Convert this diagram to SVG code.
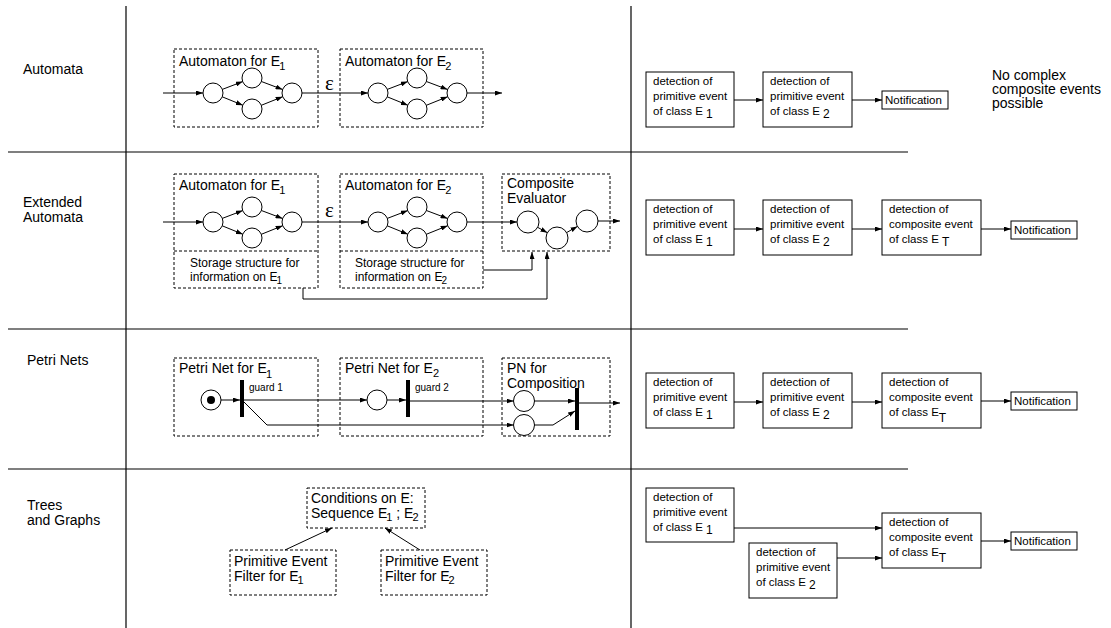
<svg xmlns="http://www.w3.org/2000/svg" width="1111" height="628" viewBox="0 0 1111 628">
  <style>
    text { font-family: "Liberation Sans", Arial, sans-serif; fill: #000; }
    .lbl { font-size: 14px; }
    .ttl { font-size: 14px; }
    .sm { font-size: 12px; }
    .box { font-size: 11.5px; }
    .grd { font-size: 10px; }
    .eps { font-family: "Liberation Serif", "Times New Roman", serif; font-size: 21px; }
    .sep { stroke: #000; stroke-width: 1.2; fill: none; }
    .dash { fill: none; stroke: #000; stroke-width: 1; stroke-dasharray: 3 2; }
    .solid { fill: #fff; stroke: #000; stroke-width: 1; }
    .st { fill: #fff; stroke: #000; stroke-width: 1; }
    .arr { fill: none; stroke: #000; stroke-width: 1; marker-end: url(#ah); }
    .bar { fill: #000; }
  </style>
  <defs>
    <marker id="ah" markerUnits="userSpaceOnUse" markerWidth="7" markerHeight="5" refX="7" refY="2.5" orient="auto">
      <path d="M0,0 L7,2.5 L0,5 z" fill="#000"/>
    </marker>
  </defs>
  <rect width="1111" height="628" fill="#fff"/>

  <!-- table grid -->
  <g id="grid">
    <line class="sep" x1="126" y1="6" x2="126" y2="628"/>
    <line class="sep" x1="631" y1="6" x2="631" y2="628"/>
    <line class="sep" x1="8" y1="152" x2="908" y2="152"/>
    <line class="sep" x1="8" y1="329" x2="908" y2="329"/>
    <line class="sep" x1="8" y1="469" x2="908" y2="469"/>
  </g>

  <!-- row headings -->
  <g id="row-labels">
    <text class="lbl" x="23" y="74">Automata</text>
    <text class="lbl" x="23" y="207">Extended</text>
    <text class="lbl" x="23" y="222">Automata</text>
    <text class="lbl" x="27" y="365">Petri Nets</text>
    <text class="lbl" x="27" y="510">Trees</text>
    <text class="lbl" x="27" y="525">and Graphs</text>
  </g>

  <!-- ===== Automata ===== -->
  <g id="aut1">
    <rect class="dash" x="174" y="49" width="144" height="78"/>
    <text class="ttl" x="179" y="66">Automaton for E<tspan font-size="11" dx="-1" dy="4">1</tspan></text>
    <circle class="st" cx="213" cy="93" r="10"/>
    <circle class="st" cx="252" cy="78" r="10"/>
    <circle class="st" cx="252" cy="109" r="10"/>
    <circle class="st" cx="292" cy="93" r="10"/>
  </g>
  <g id="aut2">
    <rect class="dash" x="340" y="49" width="143" height="78"/>
    <text class="ttl" x="345" y="66">Automaton for E<tspan font-size="11" dx="-1" dy="4">2</tspan></text>
    <circle class="st" cx="378" cy="93" r="10"/>
    <circle class="st" cx="417" cy="78" r="10"/>
    <circle class="st" cx="417" cy="109" r="10"/>
    <circle class="st" cx="457" cy="93" r="10"/>
  </g>

  <!-- ===== Extended Automata ===== -->
  <g id="ext1">
    <rect class="dash" x="174" y="174" width="144" height="114"/>
    <line class="dash" x1="174" y1="251" x2="318" y2="251"/>
    <text class="ttl" x="179" y="190">Automaton for E<tspan font-size="11" dx="-1" dy="4">1</tspan></text>
    <circle class="st" cx="213" cy="222" r="10"/>
    <circle class="st" cx="252" cy="207" r="10"/>
    <circle class="st" cx="252" cy="238" r="10"/>
    <circle class="st" cx="292" cy="222" r="10"/>
    <text class="sm" x="190" y="267">Storage structure for</text>
    <text class="sm" x="190" y="281">information on E<tspan font-size="10" dx="-1" dy="3">1</tspan></text>
  </g>
  <g id="ext2">
    <rect class="dash" x="340" y="174" width="143" height="114"/>
    <line class="dash" x1="340" y1="251" x2="483" y2="251"/>
    <text class="ttl" x="345" y="190">Automaton for E<tspan font-size="11" dx="-1" dy="4">2</tspan></text>
    <circle class="st" cx="378" cy="222" r="10"/>
    <circle class="st" cx="417" cy="207" r="10"/>
    <circle class="st" cx="417" cy="238" r="10"/>
    <circle class="st" cx="457" cy="222" r="10"/>
    <text class="sm" x="355" y="267">Storage structure for</text>
    <text class="sm" x="355" y="281">information on E<tspan font-size="10" dx="-1" dy="3">2</tspan></text>
  </g>
  <g id="ext-composite">
    <rect class="dash" x="502" y="174" width="108" height="77"/>
    <text class="ttl" x="507" y="188">Composite</text>
    <text class="ttl" x="507" y="203">Evaluator</text>
    <circle class="st" cx="528" cy="222" r="11"/>
    <circle class="st" cx="557" cy="238" r="11"/>
    <circle class="st" cx="587" cy="221" r="11"/>
  </g>

  <!-- ===== Petri Nets ===== -->
  <g id="pn1">
    <rect class="dash" x="174" y="358" width="144" height="78"/>
    <text class="ttl" x="179" y="373">Petri Net for E<tspan font-size="11" dx="-1" dy="5">1</tspan></text>
    <circle class="st" cx="211" cy="400" r="10"/>
    <circle cx="211" cy="400" r="4" fill="#000"/>
    <rect class="bar" x="240" y="380" width="4" height="37"/>
    <text class="grd" x="249" y="391">guard 1</text>
  </g>
  <g id="pn2">
    <rect class="dash" x="340" y="358" width="143" height="78"/>
    <text class="ttl" x="345" y="373">Petri Net for E<tspan font-size="11" dy="4">2</tspan></text>
    <circle class="st" cx="377" cy="400" r="10"/>
    <rect class="bar" x="406" y="380" width="4" height="37"/>
    <text class="grd" x="415" y="391">guard 2</text>
  </g>
  <g id="pn-composition">
    <rect class="dash" x="502" y="358" width="108" height="78"/>
    <text class="ttl" x="507" y="373">PN for</text>
    <text class="ttl" x="507" y="388">Composition</text>
    <circle class="st" cx="524" cy="401" r="10.5"/>
    <circle class="st" cx="524" cy="425" r="10.5"/>
    <rect class="bar" x="575" y="388" width="4" height="42"/>
  </g>

  <!-- ===== Trees and Graphs ===== -->
  <g id="tree-root">
    <rect class="dash" x="307" y="488" width="118" height="40"/>
    <text class="ttl" x="311" y="503">Conditions on E:</text>
    <text class="ttl" x="311" y="518">Sequence E<tspan font-size="11" dx="-1" dy="3">1</tspan><tspan dy="-3"> ; E</tspan><tspan font-size="11" dx="-1" dy="3">2</tspan></text>
  </g>
  <g id="tree-e1">
    <rect class="dash" x="230" y="550" width="106" height="45"/>
    <text class="ttl" x="234" y="566">Primitive Event</text>
    <text class="ttl" x="234" y="581">Filter for E<tspan font-size="11" dx="-1" dy="3">1</tspan></text>
  </g>
  <g id="tree-e2">
    <rect class="dash" x="381" y="550" width="106" height="45"/>
    <text class="ttl" x="385" y="566">Primitive Event</text>
    <text class="ttl" x="385" y="581">Filter for E<tspan font-size="11" dx="-1" dy="3">2</tspan></text>
  </g>

  <!-- ===== right column: detection chains ===== -->
  <g id="r1-e1">
    <rect class="solid" x="646" y="72" width="88" height="55"/>
    <text class="box" x="653" y="85">detection of</text>
    <text class="box" x="653" y="100">primitive event</text>
    <text class="box" x="653" y="115">of class E <tspan font-size="12" dy="3">1</tspan></text>
  </g>
  <g id="r1-e2">
    <rect class="solid" x="763" y="72" width="89" height="55"/>
    <text class="box" x="770" y="85">detection of</text>
    <text class="box" x="770" y="100">primitive event</text>
    <text class="box" x="770" y="115">of class E <tspan font-size="12" dy="3">2</tspan></text>
  </g>
  <g id="r1-notify">
    <rect class="solid" x="882" y="91" width="66" height="18"/>
    <text class="box" x="885" y="104">Notification</text>
  </g>
  <g id="r1-note">
    <text class="ttl" x="992" y="80">No complex</text>
    <text class="ttl" x="992" y="94">composite events</text>
    <text class="ttl" x="992" y="108">possible</text>
  </g>

  <g id="r2-e1">
    <rect class="solid" x="646" y="200" width="88" height="55"/>
    <text class="box" x="653" y="213">detection of</text>
    <text class="box" x="653" y="228">primitive event</text>
    <text class="box" x="653" y="243">of class E <tspan font-size="12" dy="3">1</tspan></text>
  </g>
  <g id="r2-e2">
    <rect class="solid" x="763" y="200" width="89" height="55"/>
    <text class="box" x="770" y="213">detection of</text>
    <text class="box" x="770" y="228">primitive event</text>
    <text class="box" x="770" y="243">of class E <tspan font-size="12" dy="3">2</tspan></text>
  </g>
  <g id="r2-et">
    <rect class="solid" x="882" y="200" width="99" height="55"/>
    <text class="box" x="889" y="213">detection of</text>
    <text class="box" x="889" y="228">composite event</text>
    <text class="box" x="889" y="243">of class E <tspan font-size="12" dy="3">T</tspan></text>
  </g>
  <g id="r2-notify">
    <rect class="solid" x="1011" y="221" width="66" height="18"/>
    <text class="box" x="1014" y="234">Notification</text>
  </g>

  <g id="r3-e1">
    <rect class="solid" x="646" y="373" width="88" height="55"/>
    <text class="box" x="653" y="386">detection of</text>
    <text class="box" x="653" y="401">primitive event</text>
    <text class="box" x="653" y="416">of class E <tspan font-size="12" dy="3">1</tspan></text>
  </g>
  <g id="r3-e2">
    <rect class="solid" x="763" y="373" width="89" height="55"/>
    <text class="box" x="770" y="386">detection of</text>
    <text class="box" x="770" y="401">primitive event</text>
    <text class="box" x="770" y="416">of class E <tspan font-size="12" dy="3">2</tspan></text>
  </g>
  <g id="r3-et">
    <rect class="solid" x="882" y="373" width="99" height="55"/>
    <text class="box" x="889" y="386">detection of</text>
    <text class="box" x="889" y="401">composite event</text>
    <text class="box" x="889" y="416">of class E<tspan font-size="12" dy="6">T</tspan></text>
  </g>
  <g id="r3-notify">
    <rect class="solid" x="1011" y="392" width="66" height="18"/>
    <text class="box" x="1014" y="405">Notification</text>
  </g>

  <g id="r4-e1">
    <rect class="solid" x="646" y="488" width="88" height="54"/>
    <text class="box" x="653" y="501">detection of</text>
    <text class="box" x="653" y="516">primitive event</text>
    <text class="box" x="653" y="531">of class E <tspan font-size="12" dy="3">1</tspan></text>
  </g>
  <g id="r4-e2">
    <rect class="solid" x="749" y="543" width="88" height="55"/>
    <text class="box" x="756" y="556">detection of</text>
    <text class="box" x="756" y="571">primitive event</text>
    <text class="box" x="756" y="586">of class E <tspan font-size="12" dy="3">2</tspan></text>
  </g>
  <g id="r4-et">
    <rect class="solid" x="882" y="513" width="99" height="55"/>
    <text class="box" x="889" y="526">detection of</text>
    <text class="box" x="889" y="541">composite event</text>
    <text class="box" x="889" y="556">of class E<tspan font-size="12" dy="6">T</tspan></text>
  </g>
  <g id="r4-notify">
    <rect class="solid" x="1011" y="532" width="66" height="18"/>
    <text class="box" x="1014" y="545">Notification</text>
  </g>

  <!-- connectors -->
  <g id="connectors">
    <!-- automata -->
    <line class="arr" x1="163" y1="93" x2="203" y2="93"/>
    <line class="arr" x1="222.3" y1="89.4" x2="242.7" y2="81.6"/>
    <line class="arr" x1="222.2" y1="96.8" x2="242.8" y2="105.2"/>
    <line class="arr" x1="261.4" y1="81.5" x2="282.6" y2="89.5"/>
    <line class="arr" x1="261.3" y1="105.3" x2="282.7" y2="96.7"/>
    <line class="arr" x1="302" y1="93" x2="368" y2="93"/>
    <line class="arr" x1="387.3" y1="89.4" x2="407.7" y2="81.6"/>
    <line class="arr" x1="387.2" y1="96.8" x2="407.8" y2="105.2"/>
    <line class="arr" x1="426.4" y1="81.5" x2="447.6" y2="89.5"/>
    <line class="arr" x1="426.3" y1="105.3" x2="447.7" y2="96.7"/>
    <line class="arr" x1="467" y1="93" x2="502" y2="93"/>
    <text class="eps" x="325" y="90">ε</text>

    <!-- extended automata -->
    <line class="arr" x1="163" y1="222" x2="203" y2="222"/>
    <line class="arr" x1="222.3" y1="218.4" x2="242.7" y2="210.6"/>
    <line class="arr" x1="222.2" y1="225.8" x2="242.8" y2="234.2"/>
    <line class="arr" x1="261.4" y1="210.5" x2="282.6" y2="218.5"/>
    <line class="arr" x1="261.3" y1="234.3" x2="282.7" y2="225.7"/>
    <line class="arr" x1="302" y1="222" x2="368" y2="222"/>
    <line class="arr" x1="387.3" y1="218.4" x2="407.7" y2="210.6"/>
    <line class="arr" x1="387.2" y1="225.8" x2="407.8" y2="234.2"/>
    <line class="arr" x1="426.4" y1="210.5" x2="447.6" y2="218.5"/>
    <line class="arr" x1="426.3" y1="234.3" x2="447.7" y2="225.7"/>
    <line class="arr" x1="467" y1="222" x2="517" y2="222"/>
    <line class="arr" x1="537.6" y1="227.3" x2="547.4" y2="232.7"/>
    <line class="arr" x1="566.6" y1="232.6" x2="577.4" y2="226.4"/>
    <line class="arr" x1="598" y1="221" x2="620" y2="221"/>
    <polyline class="arr" points="483,270 532,270 532,252"/>
    <polyline class="arr" points="303,288 303,299 547,299 547,252"/>
    <text class="eps" x="325" y="217">ε</text>

    <!-- petri nets -->
    <line class="arr" x1="221" y1="400" x2="240" y2="400"/>
    <line class="arr" x1="244" y1="400" x2="367" y2="400"/>
    <line class="arr" x1="387" y1="400" x2="406" y2="400"/>
    <line class="arr" x1="410" y1="401" x2="513.5" y2="401"/>
    <polyline class="arr" points="244,402 267,425 513.5,425"/>
    <line class="arr" x1="534.5" y1="401" x2="575" y2="401"/>
    <polyline class="arr" points="534.5,425 553,425 575,411"/>
    <line class="arr" x1="579" y1="403" x2="620" y2="403"/>

    <!-- trees and graphs -->
    <line class="arr" x1="285" y1="550" x2="332" y2="528"/>
    <line class="arr" x1="420" y1="550" x2="385" y2="528"/>

    <!-- right column -->
    <line class="arr" x1="734" y1="100" x2="763" y2="100"/>
    <line class="arr" x1="852" y1="100" x2="882" y2="100"/>
    <line class="arr" x1="734" y1="229" x2="763" y2="229"/>
    <line class="arr" x1="852" y1="229" x2="882" y2="229"/>
    <line class="arr" x1="981" y1="229" x2="1011" y2="229"/>
    <line class="arr" x1="734" y1="402" x2="763" y2="402"/>
    <line class="arr" x1="852" y1="402" x2="882" y2="402"/>
    <line class="arr" x1="981" y1="401" x2="1011" y2="401"/>
    <line class="arr" x1="734" y1="528" x2="882" y2="528"/>
    <line class="arr" x1="837" y1="558" x2="882" y2="558"/>
    <line class="arr" x1="981" y1="541" x2="1011" y2="541"/>
  </g>
</svg>
